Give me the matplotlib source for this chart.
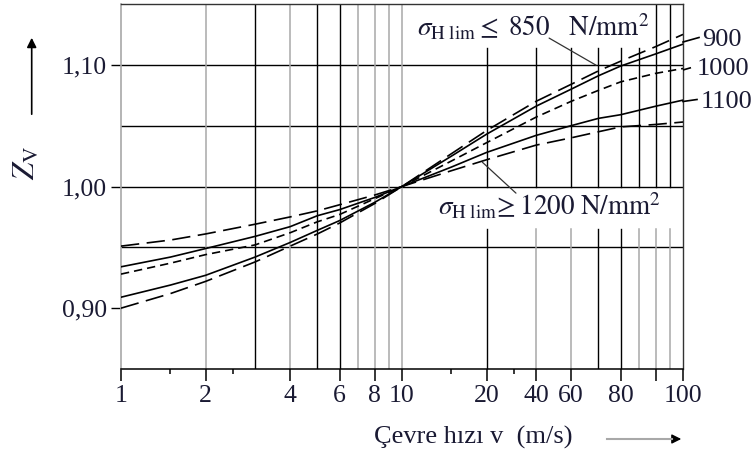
import matplotlib
matplotlib.use("Agg")
import matplotlib.pyplot as plt

plt.rcParams["font.family"] = ["Liberation Serif", "DejaVu Serif"]
plt.rcParams["mathtext.fontset"] = "stix"

# ── data ────────────────────────────────────────────────────────────
speed = [1, 1.5, 2, 3, 4, 5, 6, 8, 10, 15, 20, 30, 40, 50, 60, 80, 100]
zv_850 = [0.900, 0.912, 0.922, 0.938, 0.951, 0.961, 0.970, 0.986, 1.000,
          1.027, 1.046, 1.070, 1.084, 1.095, 1.103, 1.115, 1.125]
zv_900 = [0.909, 0.919, 0.927, 0.942, 0.954, 0.964, 0.972, 0.987, 1.000,
          1.025, 1.043, 1.066, 1.080, 1.091, 1.099, 1.109, 1.117]
zv_1000 = [0.928, 0.937, 0.944, 0.952, 0.962, 0.971, 0.977, 0.990, 1.000,
           1.021, 1.036, 1.057, 1.070, 1.079, 1.086, 1.093, 1.097]
zv_1100 = [0.934, 0.942, 0.949, 0.959, 0.967, 0.976, 0.981, 0.991, 1.000,
           1.016, 1.028, 1.042, 1.050, 1.056, 1.059, 1.066, 1.071]
zv_1200 = [0.951, 0.956, 0.961, 0.969, 0.975, 0.980, 0.985, 0.993, 1.000,
           1.013, 1.022, 1.034, 1.040, 1.045, 1.049, 1.051, 1.053]

xtick_pos = [1, 2, 4, 6, 8, 10, 20, 30, 40, 60, 80, 100]
xtick_lab = ["1", "2", "4", "6", "8", "10", "20", "40", "60", "80", "", "100"]
xminor = [1.5, 2.5, 15, 25]
ytick_pos = [0.90, 1.00, 1.10]
ytick_lab = ["0,90", "1,00", "1,10"]
hgrid = [0.95, 1.00, 1.05, 1.10]

W, H = 755, 457
INK = "#1a1a33"
GRAY = "#a8a8a8"
FS = 19

fig = plt.figure(figsize=(W / 100, H / 100), dpi=100)
ax = fig.add_axes([121 / W, (H - 369) / H, (683 - 121) / W, (369 - 4) / H])
ax.set_xscale("log")
ax.set_xlim(1, 100)
ax.set_ylim(0.85, 1.15)

# ── grid ────────────────────────────────────────────────────────────
for y in hgrid:
    ax.axhline(y, color="black", lw=1.0, zorder=1)

left_grid = {2: GRAY, 3: "black", 4: GRAY, 5: "black", 6: "black",
             7: GRAY, 8: GRAY, 9: GRAY, 10: GRAY}
for x, c in left_grid.items():
    ax.axvline(x, color=c, lw=1.1 if c == GRAY else 1.0, zorder=1)

# right decade: lines are broken where the two labels sit
y_gap_lo, y_gap_hi, y_top_cut = 0.965, 1.00, 1.1136
upper_full = {80, 90}
lower_col = {20: "black", 30: GRAY, 40: GRAY, 50: "black", 60: "black",
             70: GRAY, 80: GRAY, 90: GRAY}
for x, c in lower_col.items():
    ax.plot([x, x], [0.85, y_gap_lo], color=c, lw=1.1 if c == GRAY else 1.0,
            zorder=1)
    top = 1.15 if x in upper_full else y_top_cut
    ax.plot([x, x], [y_gap_hi, top], color="black", lw=1.0, zorder=1)

# ── curves ──────────────────────────────────────────────────────────
LW = 1.2
LONG, SHORT = (11, 4.5), (5, 3)
ax.plot(speed, zv_850, color="black", lw=LW, dashes=LONG, zorder=3)
ax.plot(speed, zv_900, color="black", lw=LW, zorder=3)
ax.plot(speed, zv_1000, color="black", lw=LW, dashes=SHORT, zorder=3)
ax.plot(speed, zv_1100, color="black", lw=LW, zorder=3)
ax.plot(speed, zv_1200, color="black", lw=LW, dashes=LONG, zorder=3)

# ── axes styling ────────────────────────────────────────────────────
for s in ["top", "right"]:
    ax.spines[s].set_color("#333333")
    ax.spines[s].set_linewidth(1.0)
ax.spines["left"].set_color(GRAY)
ax.spines["left"].set_linewidth(1.2)
ax.spines["bottom"].set_color("black")
ax.spines["bottom"].set_linewidth(1.1)

ax.set_xticks(xtick_pos)
ax.set_xticklabels(xtick_lab)
ax.set_xticks(xminor, minor=True)
ax.set_xticklabels([""] * len(xminor), minor=True)
ax.set_yticks(ytick_pos)
ax.set_yticklabels(ytick_lab)
ax.tick_params(axis="x", which="major", direction="out", length=8.5,
               width=1.1, pad=3, labelsize=FS - 0.5, labelcolor=INK)
ax.tick_params(axis="x", which="minor", direction="out", length=3.6,
               width=1.1)
ax.tick_params(axis="y", which="major", direction="out", length=7.2,
               width=1.0, pad=3, labelsize=FS - 0.5, labelcolor=INK)
ax.tick_params(axis="y", which="minor", left=False)

# ── annotations ─────────────────────────────────────────────────────
ax.annotate("", xy=(50, 1.0986), xytext=(546.7 / W, 1 - 36.7 / H),
            textcoords="figure fraction",
            arrowprops=dict(arrowstyle="-", color="#333333", lw=0.9))
fig.text(417 / W, 1 - 27 / H,
         r"$\sigma_{\mathrm{H\ lim}} \leq\ 850\ \ \ \mathrm{N/mm}^2$",
         fontsize=FS + 0.5, color=INK, ha="left", va="center")

ax.annotate("", xy=(19, 1.0215), xytext=(518 / W, 1 - 195 / H),
            textcoords="figure fraction",
            arrowprops=dict(arrowstyle="-", color="#333333", lw=0.9))
fig.text(438 / W, 1 - 206 / H,
         r"$\sigma_{\mathrm{H\ lim}}\!\geq 1200\ \mathrm{N/mm}^2$",
         fontsize=FS + 0.5, color=INK, ha="left", va="center")

# leader stubs to the right-hand labels
def stub(x0, y0, x1, y1, **kw):
    fig.add_artist(plt.Line2D([x0 / W, x1 / W], [1 - y0 / H, 1 - y1 / H],
                              color="black", lw=LW, **kw))

stub(683, 42, 699, 37.5)
stub(683, 70, 695, 66.5, dashes=SHORT)
stub(683, 101.5, 697, 99.5)
fig.text(702 / W, 1 - 40 / H, "900", fontsize=FS, color=INK,
         ha="left", va="center")
fig.text(697 / W, 1 - 69 / H, "1000", fontsize=FS, color=INK,
         ha="left", va="center")
fig.text(701 / W, 1 - 102 / H, "1100", fontsize=FS, color=INK,
         ha="left", va="center")

# axis titles with arrows
fig.text(27 / W, 1 - 163 / H, r"$Z_{\mathrm{V}}$", fontsize=22, color=INK,
         rotation=90, ha="center", va="center")
fig.add_artist(matplotlib.patches.FancyArrowPatch(
    (31.7 / W, 1 - 117 / H), (31.7 / W, 1 - 35 / H),
    transform=fig.transFigure, arrowstyle="-|>", mutation_scale=14,
    color="black", lw=1.2))

fig.text(473 / W, 1 - 437 / H, "Çevre hızı v  (m/s)", fontsize=FS,
         color=INK, ha="center", va="center")
fig.add_artist(plt.Line2D([607 / W, 672 / W], [1 - 439 / H, 1 - 439 / H],
                          color=GRAY, lw=1.5))
fig.add_artist(matplotlib.patches.FancyArrowPatch(
    (668 / W, 1 - 439 / H), (684 / W, 1 - 439 / H),
    transform=fig.transFigure, arrowstyle="-|>", mutation_scale=14,
    color="black", lw=1.0))

fig.savefig("out.png", dpi=100, facecolor="white")
